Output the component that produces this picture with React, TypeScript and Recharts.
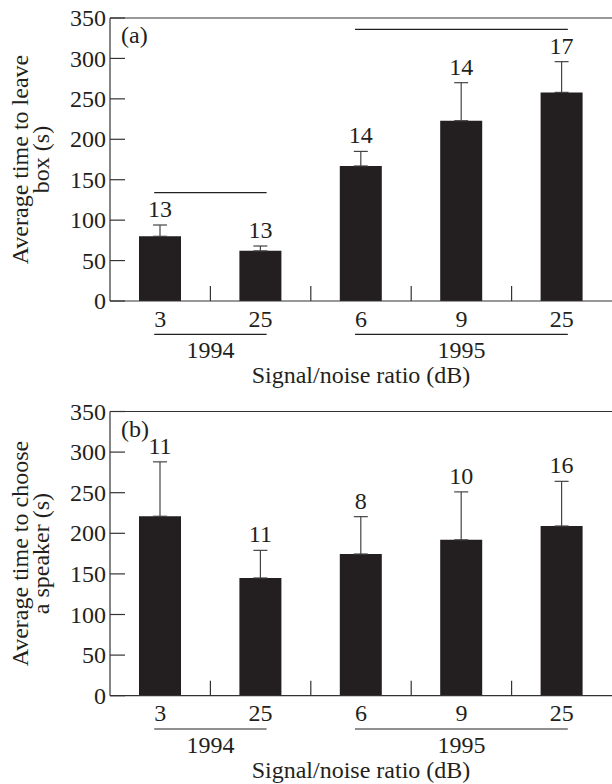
import React from 'react';
import { BarChart, Bar, XAxis, YAxis, ErrorBar, LabelList, ReferenceLine } from 'recharts';

// ---------- data ----------
const categories = ['1994-3', '1994-25', '1995-6', '1995-9', '1995-25'];
const snrLabels = ['3', '25', '6', '9', '25'];
const yearGroups = [
  { year: '1994', first: 0, last: 1 },
  { year: '1995', first: 2, last: 4 },
];
const yTicks = [0, 50, 100, 150, 200, 250, 300, 350];

const leaveMeans = [80, 62, 167, 223, 258];
const leaveErrors = [14, 6, 18, 47, 38];
const leaveN = [13, 13, 14, 14, 17];
const leaveBracketLevels = [134, 336];

const chooseMeans = [221, 145, 174.5, 192, 209];
const chooseErrors = [67, 34, 46, 59, 55];
const chooseN = [11, 11, 8, 10, 16];

// ---------- style ----------
const W = 612;
const H = 392;
const Y_AXIS_W = 110;
const FONT = "'Liberation Serif', 'Times New Roman', serif";
const FS = 24;
const INK = '#231f20';
const LINE = '#333333';
const STEP = (W - Y_AXIS_W) / categories.length;

const buildData = (means: number[], errors: number[], ns: number[]) =>
  categories.map((c, i) => ({
    key: c,
    mean: means[i],
    err: [0, errors[i]],
    n: ns[i],
  }));

const YTick = (props: any) => {
  const { x, y, payload } = props;
  return (
    <g>
      <line x1={x} y1={y} x2={x + 15} y2={y} stroke={LINE} strokeWidth={1.2} />
      <text x={x - 4} y={y} dy="0.34em" textAnchor="end" fontFamily={FONT} fontSize={FS} fill={INK}>
        {payload.value}
      </text>
    </g>
  );
};

const XTick = (props: any) => {
  const { x, y, index } = props;
  const group = yearGroups.find((g) => g.first === index);
  return (
    <g>
      <text x={x} y={y + 25.7} textAnchor="middle" fontFamily={FONT} fontSize={FS} fill={INK}>
        {snrLabels[index]}
      </text>
      {index > 0 && (
        <line x1={x - STEP / 2} y1={y} x2={x - STEP / 2} y2={y - 15} stroke={LINE} strokeWidth={1.2} />
      )}
      {group && (
        <g>
          <line
            x1={x - 6}
            y1={y + 33.3}
            x2={x + (group.last - group.first) * STEP + 6}
            y2={y + 33.3}
            stroke={INK}
            strokeWidth={1.2}
          />
          <text
            x={x + ((group.last - group.first) * STEP) / 2}
            y={y + 57.3}
            textAnchor="middle"
            fontFamily={FONT}
            fontSize={FS}
            fill={INK}
          >
            {group.year}
          </text>
        </g>
      )}
    </g>
  );
};

const ExtendedLine = (props: any) => {
  const { x1, y1, x2, y2 } = props;
  return <line x1={x1 - 6} y1={y1} x2={x2 + 6} y2={y2} stroke={INK} strokeWidth={1.2} />;
};

type PanelProps = {
  means: number[];
  errors: number[];
  ns: number[];
  tag: string;
  titleLines: string[];
  marginTop: number;
  xAxisHeight: number;
  brackets?: number[];
};

const Panel = ({ means, errors, ns, tag, titleLines, marginTop, xAxisHeight, brackets }: PanelProps) => {
  const data = buildData(means, errors, ns);

  const renderN = (p: any) => {
    const { x, y, width, height, index } = p;
    const v = means[index];
    const pxPerUnit = Math.abs(Number(height)) / v;
    const errPx = errors[index] * pxPerUnit;
    return (
      <text
        x={Number(x) + Number(width) / 2}
        y={Number(y) - errPx - 8}
        textAnchor="middle"
        fontFamily={FONT}
        fontSize={FS}
        fill={INK}
      >
        {ns[index]}
      </text>
    );
  };

  return (
    <BarChart
      width={W}
      height={H}
      data={data}
      margin={{ top: marginTop, right: 0, bottom: 0, left: 0 }}
      style={{ display: 'block' }}
    >
      <XAxis
        dataKey="key"
        interval={0}
        tickSize={0}
        tickMargin={0}
        tickLine={false}
        height={xAxisHeight}
        axisLine={{ stroke: LINE, strokeWidth: 1.2 }}
        tick={<XTick />}
        label={{
          content: (lp: any) => {
            const vb = lp.viewBox || {};
            return (
              <text
                x={vb.x + vb.width / 2}
                y={vb.y + 82}
                textAnchor="middle"
                fontFamily={FONT}
                fontSize={FS}
                fill={INK}
              >
                Signal/noise ratio (dB)
              </text>
            );
          },
        }}
      />
      <YAxis
        type="number"
        domain={[0, 350]}
        ticks={yTicks}
        interval={0}
        width={Y_AXIS_W}
        tickSize={0}
        tickMargin={0}
        tickLine={false}
        axisLine={{ stroke: LINE, strokeWidth: 1.2 }}
        tick={<YTick />}
        label={{
          content: (lp: any) => {
            const vb = lp.viewBox || {};
            const cy = vb.y + vb.height / 2;
            const xs = [20, 41];
            return (
              <g>
                {titleLines.map((t, i) => (
                  <text
                    key={i}
                    x={xs[i]}
                    y={cy}
                    transform={`rotate(-90, ${xs[i]}, ${cy})`}
                    textAnchor="middle"
                    dominantBaseline="central"
                    fontFamily={FONT}
                    fontSize={FS}
                    fill={INK}
                  >
                    {t}
                  </text>
                ))}
              </g>
            );
          },
        }}
      />
      <ReferenceLine
        y={350}
        stroke={LINE}
        strokeWidth={1.2}
        label={{
          content: (lp: any) => {
            const vb = lp.viewBox || {};
            return (
              <text x={vb.x + 11} y={vb.y + 25} fontFamily={FONT} fontSize={FS} fill={INK}>
                {tag}
              </text>
            );
          },
        }}
      />
      {brackets &&
        yearGroups.map((g, i) => (
          <ReferenceLine
            key={g.year}
            segment={[
              { x: categories[g.first], y: brackets[i] },
              { x: categories[g.last], y: brackets[i] },
            ]}
            shape={<ExtendedLine />}
          />
        ))}
      <Bar dataKey="mean" fill={INK} barSize={42} isAnimationActive={false}>
        <ErrorBar dataKey="err" width={7} stroke="#444" strokeWidth={1.2} direction="y" />
        <LabelList dataKey="n" content={renderN} />
      </Bar>
    </BarChart>
  );
};

export default function App() {
  return (
    <div style={{ position: 'absolute', left: 0, top: 0, width: W, height: 784, background: '#fff' }}>
      <Panel
        means={leaveMeans}
        errors={leaveErrors}
        ns={leaveN}
        tag="(a)"
        titleLines={['Average time to leave', 'box (s)']}
        marginTop={18}
        xAxisHeight={91}
        brackets={leaveBracketLevels}
      />
      <Panel
        means={chooseMeans}
        errors={chooseErrors}
        ns={chooseN}
        tag="(b)"
        titleLines={['Average time to choose', 'a speaker (s)']}
        marginTop={19.5}
        xAxisHeight={88.3}
      />
    </div>
  );
}
